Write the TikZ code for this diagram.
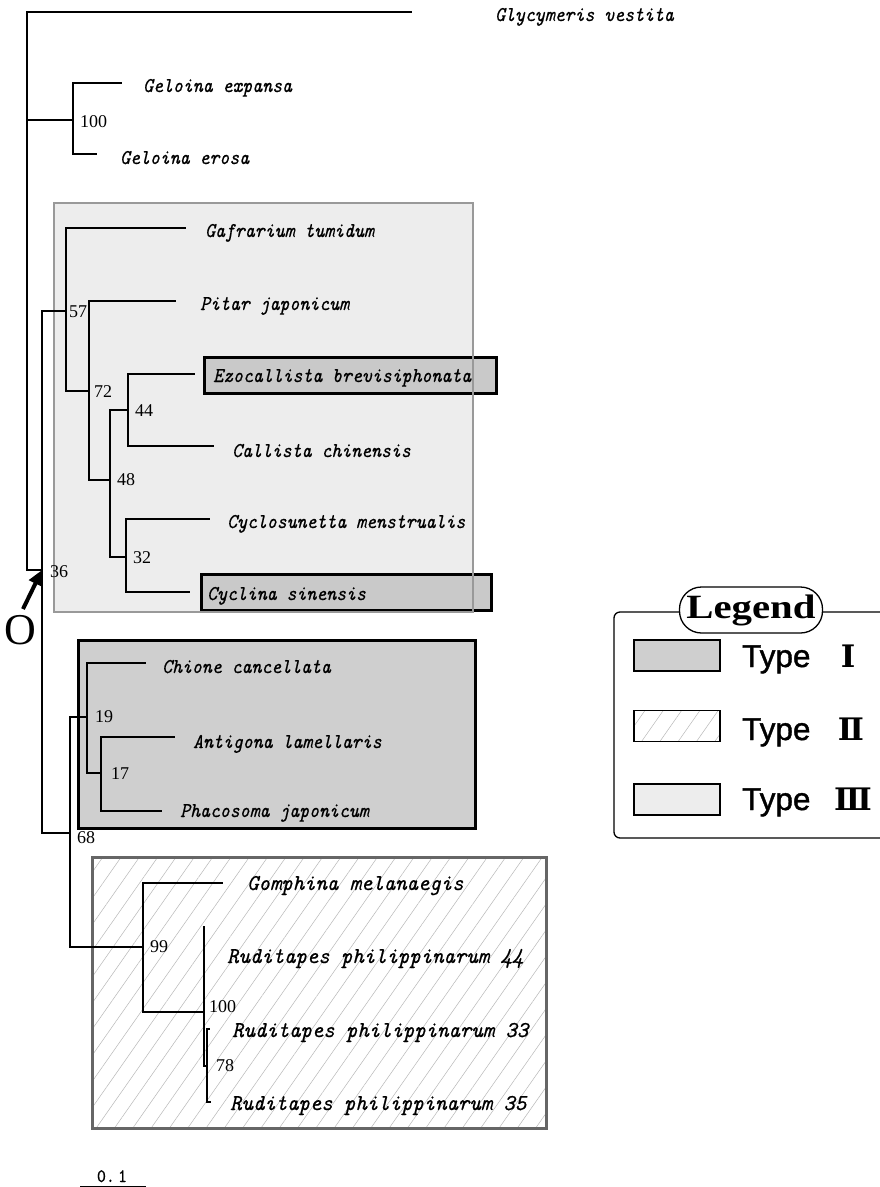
\documentclass[tikz,border=0pt]{standalone}
\usepackage{fontspec}
\setmainfont{Liberation Serif}
\newfontfamily\taxfont[ItalicFont=lmmono10-italic.otf, FakeStretch=0.9, FakeBold=0.6]{lmmono10-regular.otf}
\newfontfamily\taxfontB[ItalicFont=lmmono10-italic.otf, FakeStretch=0.96, FakeBold=0.6]{lmmono10-regular.otf}
\newfontfamily\numfont{DejaVu Serif}
\newfontfamily\typefont[FakeBold=1.2]{Liberation Sans}
\newfontfamily\legfont[FakeStretch=1.2]{Liberation Serif}
\usetikzlibrary{patterns.meta,arrows.meta}

\tikzset{
  branch/.style={line width=1.5pt},
  taxon/.style={anchor=base west, inner sep=0pt,
    font=\taxfont\itshape\fontsize{21}{21}\selectfont},
  taxonB/.style={anchor=base west, inner sep=0pt,
    font=\taxfontB\itshape\fontsize{22.6}{22.6}\selectfont},
  boot/.style={anchor=base west, inner sep=0pt, font=\fontsize{18}{18}\selectfont},
  hatch/.style={pattern={Lines[angle=55,distance=15pt,line width=0.5pt]}, pattern color=black!28},
  lightbox/.style={fill=black!7},
  lightedge/.style={draw=black!40, line width=2pt},
  darkbox/.style={fill=black!19, draw=black, line width=3pt},
  hatchedge/.style={draw=black!60, line width=3pt},
  hibox/.style={fill=black!21, draw=black, line width=3pt},
  swatch/.style={draw=black, line width=1.3pt, minimum width=86pt, minimum height=31pt, inner sep=0pt},
  typelabel/.style={anchor=base west, inner sep=0pt, font=\typefont\fontsize{31.5}{31.5}\selectfont},
  numeral/.style={anchor=base, inner sep=0pt, font=\numfont\bfseries\fontsize{31}{31}\selectfont},
  pointer/.style={line width=4pt, -{Triangle[length=15pt,width=14pt]}}
}

\begin{document}
\begin{tikzpicture}[x=1pt,y=-1pt]
\useasboundingbox (0,0) rectangle (880,1187);

% ---- clade boxes ----
\path[lightbox] (54,203) rectangle (473,612);
\draw[hibox] (204,357) rectangle (496,393);
\draw[hibox] (201,574) rectangle (491,610);
\draw[lightedge] (54,203) rectangle (473,612);
\draw[darkbox] (78,640) rectangle (475,828);
\fill[white] (92,857) rectangle (546,1128);
\path[hatch] (92,857) rectangle (546,1128);
\draw[hatchedge] (92,857) rectangle (546,1128);

% ---- tree nodes and tips ----
\coordinate (root) at (27,300);
\coordinate (tGly) at (412,12);
\coordinate (nGel) at (73,120);
\coordinate (tGex) at (122,83);
\coordinate (tGer) at (97,154);
\coordinate (n36) at (42,570);
\coordinate (n57) at (66,311);
\coordinate (tGaf) at (186,228);
\coordinate (n72) at (89,391);
\coordinate (tPit) at (176,301);
\coordinate (n48) at (110,480);
\coordinate (n44) at (128,410);
\coordinate (tEzo) at (195,374);
\coordinate (tCal) at (214,446);
\coordinate (n32) at (126,557);
\coordinate (tCyc) at (210,519);
\coordinate (tCyl) at (190,592);
\coordinate (n68) at (70,833);
\coordinate (n19) at (87,717);
\coordinate (tChi) at (146,663);
\coordinate (n17) at (101,773);
\coordinate (tAnt) at (175,737);
\coordinate (tPha) at (162,811);
\coordinate (n99) at (143,947);
\coordinate (tGom) at (223,883);
\coordinate (n100) at (204,1012);
\coordinate (tR44) at (205,927);
\coordinate (n78) at (207,1066);
\coordinate (tR33) at (210,1029);
\coordinate (tR35) at (211,1102);

% ---- branches ----
\draw[branch] (root) |- (tGly);
\draw[branch] (root) |- (nGel);
\draw[branch] (root) |- (n36);
\draw[branch] (nGel) |- (tGex);
\draw[branch] (nGel) |- (tGer);
\draw[branch] (n36) |- (n57);
\draw[branch] (n36) |- (n68);
\draw[branch] (n57) |- (tGaf);
\draw[branch] (n57) |- (n72);
\draw[branch] (n72) |- (tPit);
\draw[branch] (n72) |- (n48);
\draw[branch] (n48) |- (n44);
\draw[branch] (n48) |- (n32);
\draw[branch] (n44) |- (tEzo);
\draw[branch] (n44) |- (tCal);
\draw[branch] (n32) |- (tCyc);
\draw[branch] (n32) |- (tCyl);
\draw[branch] (n68) |- (n19);
\draw[branch] (n68) |- (n99);
\draw[branch] (n19) |- (tChi);
\draw[branch] (n19) |- (n17);
\draw[branch] (n17) |- (tAnt);
\draw[branch] (n17) |- (tPha);
\draw[branch] (n99) |- (tGom);
\draw[branch] (n99) |- (n100);
\draw[branch] (n100) |- (tR44);
\draw[branch] (n100) |- (n78);
\draw[branch] (n78) |- (tR33);
\draw[branch] (n78) |- (tR35);

% ---- taxon names ----
\node[taxon] (lGly) at (495,21) {Glycymeris vestita};
\node[taxon] (lGex) at (143,92) {Geloina expansa};
\node[taxon] (lGer) at (120,164) {Geloina erosa};
\node[taxon] (lGaf) at (205,237) {Gafrarium tumidum};
\node[taxon] (lPit) at (200,310) {Pitar japonicum};
\node[taxon] (lEzo) at (213,382) {Ezocallista brevisiphonata};
\node[taxon] (lCal) at (232,457) {Callista chinensis};
\node[taxon] (lCyc) at (227,528) {Cyclosunetta menstrualis};
\node[taxon] (lCyl) at (207,600) {Cyclina sinensis};
\node[taxon] (lChi) at (162,673) {Chione cancellata};
\node[taxon] (lAnt) at (193,748) {Antigona lamellaris};
\node[taxon] (lPha) at (180,817) {Phacosoma japonicum};
\node[taxonB] (lGom) at (247,890) {Gomphina melanaegis};
\node[taxonB] (lR44) at (227,963) {Ruditapes philippinarum 44};
\node[taxonB] (lR33) at (232,1037) {Ruditapes philippinarum 33};
\node[taxonB] (lR35) at (230,1110) {Ruditapes philippinarum 35};

% ---- bootstrap values ----
\node[boot] (bGel) at (80,127) {100};
\node[boot] (b36) at (50,577) {36};
\node[boot] (b57) at (69,317) {57};
\node[boot] (b72) at (94,397) {72};
\node[boot] (b44) at (135,416) {44};
\node[boot] (b48) at (117,485) {48};
\node[boot] (b32) at (133,563) {32};
\node[boot] (b19) at (95,722) {19};
\node[boot] (b17) at (111,779) {17};
\node[boot] (b68) at (77,843) {68};
\node[boot] (b99) at (150,952) {99};
\node[boot] (b100) at (209,1012) {100};
\node[boot] (b78) at (216,1071) {78};

% ---- origin marker ----
\node[inner sep=0pt, font=\fontsize{44}{44}\selectfont] (olabel) at (20,630) {O};
\coordinate (otail) at (23,609);
\draw[pointer] (otail) -- (n36);

% ---- scale bar ----
\coordinate (sbL) at (80,1186);
\coordinate (sbR) at (146,1186);
\draw[line width=1pt] (sbL) -- (sbR);
\node[anchor=base, inner sep=0pt, font=\taxfont\fontsize{19}{19}\selectfont] (sblab) at (112,1182) {0.\,1};

% ---- legend ----
\draw[line width=1.3pt, rounded corners=6pt] (614,612) rectangle (895,838);
\node[draw, fill=white, line width=1.3pt, rounded corners=22pt, minimum width=143pt,
      minimum height=46pt, inner sep=0pt,
      font=\legfont\bfseries\fontsize{34}{34}\selectfont] (legtitle) at (751,610) {Legend};
\node[swatch, fill=black!19] (sw1) at (677,655.5) {};
\node[swatch, fill=white, hatch] (sw2) at (677,726) {};
\node[swatch, fill=black!7] (sw3) at (677,799.5) {};
\node[typelabel] (ty1) at (742,667) {Type};
\node[typelabel] (ty2) at (742,740) {Type};
\node[typelabel] (ty3) at (742,810) {Type};
\node[numeral] (nm1) at (848,667) {Ⅰ};
\node[numeral] (nm2) at (851,740) {Ⅱ};
\node[numeral] (nm3) at (853,810) {Ⅲ};
\end{tikzpicture}
\end{document}
